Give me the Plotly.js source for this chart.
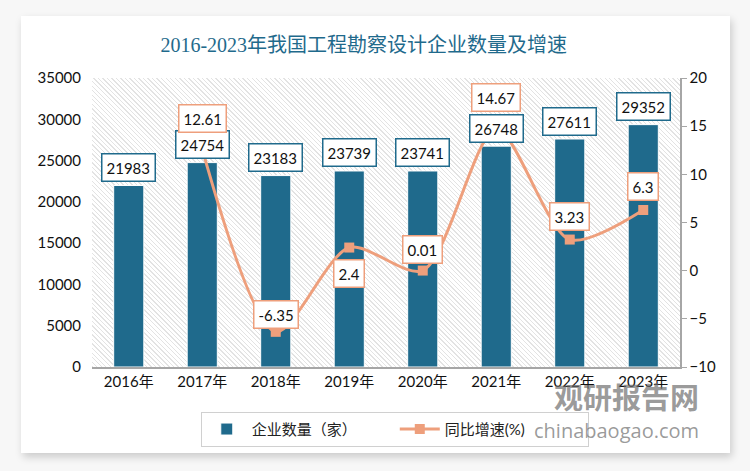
<!DOCTYPE html>
<html>
<head>
<meta charset="utf-8">
<script src="https://cdn.plot.ly/plotly-3.0.1.min.js"></script>
<style>
  html, body { margin: 0; padding: 0; background: #f7f7f7; }
  #wrap { position: relative; width: 750px; height: 471px; overflow: hidden; background: #f7f7f7; }
  #card { position: absolute; left: 21px; top: 16px; width: 709px; height: 437px; background: #ffffff;
          box-shadow: 2px 4px 8px rgba(0,0,0,0.18); }
  #hatch { position: absolute; left: 92px; top: 78px; width: 588px; height: 289px;
           background: repeating-linear-gradient(45deg, #e3e3e3 0px, #e3e3e3 1px, #ffffff 1px, #ffffff 3.2px); }
  #chart { position: absolute; left: 0; top: 0; width: 750px; height: 471px; }
</style>
</head>
<body>
<div id="wrap">
  <div id="card"></div>
  <div id="hatch"></div>
  <div id="chart"></div>
</div>
<script>
const years = ["2016年", "2017年", "2018年", "2019年", "2020年", "2021年", "2022年", "2023年"];
const companies = [21983, 24754, 23183, 23739, 23741, 26748, 27611, 29352];
const growth = [null, 12.61, -6.35, 2.4, 0.01, 14.67, 3.23, 6.3];

// label placement offsets (px, positive = above the point)
const growthLabelShift = [0, 31, 17, -26, 21, 32, 23, 23];

const barColor = "#1f6a8c";
const lineColor = "#ee9f7c";
const font = "Lato, 'Noto Sans CJK SC', sans-serif";

const traces = [
  {
    type: "bar", name: "企业数量（家）", x: years, y: companies,
    marker: { color: barColor, line: { color: "#ffffff", width: 1 } },
    width: 0.41, yaxis: "y", hoverinfo: "skip"
  },
  {
    type: "scatter", mode: "lines+markers", name: "同比增速(%)", x: years, y: growth,
    line: { color: lineColor, width: 3, shape: "spline", smoothing: 0.8 },
    marker: { color: lineColor, symbol: "square", size: 10 },
    yaxis: "y2", connectgaps: false, hoverinfo: "skip"
  }
];

const annotations = [];
years.forEach((yr, i) => {
  annotations.push({
    x: yr, y: companies[i], xref: "x", yref: "y", text: String(companies[i]),
    showarrow: false, yanchor: "middle", yshift: 18,
    font: { family: font, size: 15, color: "#111" },
    bgcolor: "#ffffff", bordercolor: barColor, borderwidth: 1.5, borderpad: 4
  });
});
years.forEach((yr, i) => {
  if (growth[i] === null) return;
  annotations.push({
    x: yr, y: growth[i], xref: "x", yref: "y2", text: String(growth[i]),
    showarrow: false, yanchor: "middle", yshift: growthLabelShift[i],
    font: { family: font, size: 15, color: "#111" },
    bgcolor: "#ffffff", bordercolor: lineColor, borderwidth: 1.5, borderpad: 4
  });
});
// watermark
annotations.push({
  xref: "paper", yref: "paper", x: 1.035, y: -0.1, xanchor: "right", yanchor: "middle",
  text: "<b>观研报告网</b>", showarrow: false,
  font: { family: "'Noto Sans CJK SC', sans-serif", size: 29, color: "rgba(110,110,110,0.7)" }
});
annotations.push({
  xref: "paper", yref: "paper", x: 1.035, y: -0.22, xanchor: "right", yanchor: "middle",
  text: "chinabaogao.com", showarrow: false,
  font: { family: "'Open Sans', sans-serif", size: 20, color: "rgba(110,110,110,0.7)" }
});

const layout = {
  width: 750, height: 471,
  paper_bgcolor: "rgba(0,0,0,0)", plot_bgcolor: "rgba(0,0,0,0)",
  margin: { l: 92, r: 70, t: 78, b: 104 },
  title: {
    text: "2016-2023年我国工程勘察设计企业数量及增速",
    x: 0.485, xanchor: "center", y: 0.905, yanchor: "middle",
    font: { family: "'Liberation Serif', 'Noto Sans CJK SC', serif", size: 20, color: barColor }
  },
  showlegend: true,
  legend: {
    orientation: "h", x: 0.185, xanchor: "left", y: -0.155, yanchor: "top",
    bordercolor: "#d0d0d0", borderwidth: 1, bgcolor: "rgba(255,255,255,0)",
    font: { family: font, size: 15, color: "#222" },
    itemwidth: 40, entrywidth: 138, traceorder: "normal"
  },
  xaxis: {
    type: "category", showgrid: false, showline: true, linecolor: "#a6a6a6", linewidth: 1.5,
    ticks: "", tickfont: { family: font, size: 15, color: "#111" }, fixedrange: true
  },
  yaxis: {
    range: [0, 35000], dtick: 5000, tickformat: "d", showgrid: false, zeroline: false, showline: false,
    ticks: "", tickfont: { family: font, size: 15, color: "#111" }, ticklabelstandoff: 10
  },
  yaxis2: {
    overlaying: "y", side: "right", range: [-10, 20], dtick: 5, showgrid: false, zeroline: false,
    showline: true, linecolor: "#a6a6a6", linewidth: 1.5, ticks: "outside", ticklen: 5,
    tickcolor: "#a6a6a6", tickfont: { family: font, size: 15, color: "#111" }
  },
  bargap: 0.59,
  annotations: annotations
};

Plotly.newPlot("chart", traces, layout, { displayModeBar: false, staticPlot: true });
</script>
</body>
</html>
